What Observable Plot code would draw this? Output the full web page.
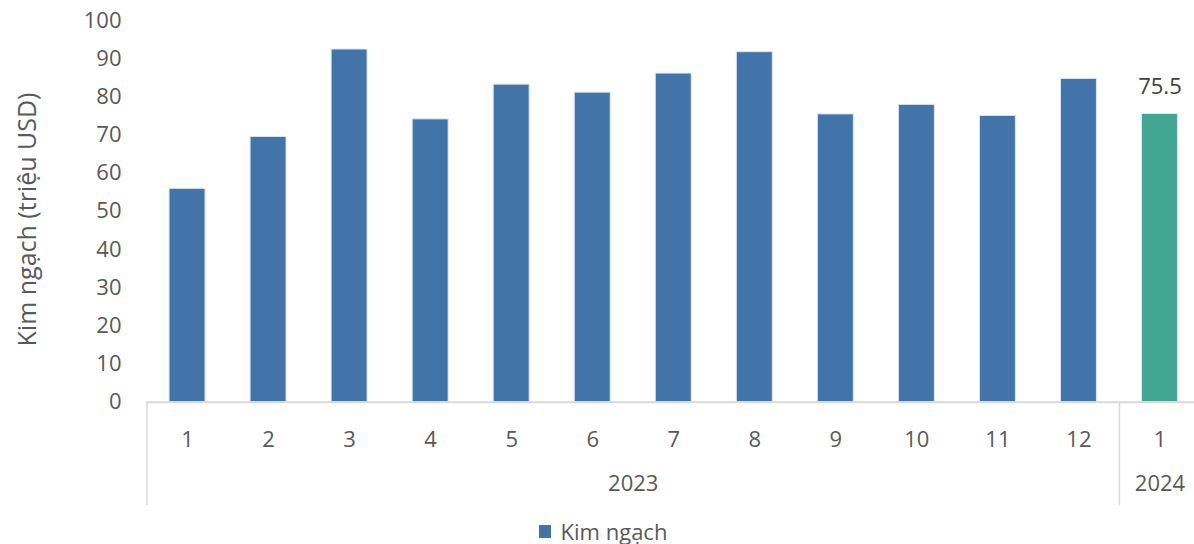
<!DOCTYPE html>
<html>
<head>
<meta charset="utf-8">
<script src="https://cdn.jsdelivr.net/npm/d3@7"></script>
<script src="https://cdn.jsdelivr.net/npm/@observablehq/plot@0.6"></script>
<style>
  body { margin: 0; background: #fff; font-family: "Open Sans", sans-serif; }
  #legend { height: 34px; padding-top: 4px; display: flex; align-items: center; justify-content: center; color: #595959; font-size: 22px; padding-left: 12px; }
  #legend .sw { width: 12px; height: 13px; background: #4374a9; margin-right: 10px; }
</style>
</head>
<body>
<div id="chart"></div>
<div id="legend"><span class="sw"></span><span>Kim ngạch</span></div>
<script>
const months = [1, 2, 3, 4, 5, 6, 7, 8, 9, 10, 11, 12, 1];
const years = [2023, 2023, 2023, 2023, 2023, 2023, 2023, 2023, 2023, 2023, 2023, 2023, 2024];
const values = [55.9, 69.5, 92.4, 74.1, 83.2, 81.1, 86.1, 91.7, 75.4, 77.9, 75.0, 84.7, 75.5];
const yTicks = [0, 10, 20, 30, 40, 50, 60, 70, 80, 90, 100];
const yLabel = "Kim ngạch (triệu USD)";
const labeled = [12]; // index of the bar carrying a data label

const data = months.map((m, i) => ({ i, month: m, year: years[i], value: values[i] }));
const groups = d3.groups(data, d => d.year).map(([year, rows]) => ({
  year,
  center: d3.mean(rows, r => r.i),
  start: d3.min(rows, r => r.i) - 0.5
}));

const blue = "#4374a9", green = "#42a692", textColor = "#595959", lineColor = "#d9d9d9";
const half = 0.222;

const chart = Plot.plot({
  width: 1194,
  height: 510,
  marginLeft: 146,
  marginRight: 0,
  marginTop: 20,
  marginBottom: 108,
  style: { fontFamily: "'Open Sans', sans-serif", fontSize: "22px", color: textColor, background: "white" },
  x: { type: "linear", domain: [-0.5, 12.5], range: [146.5, 1200] },
  y: { domain: [0, 100], range: [401.7, 20] },
  marks: [
    Plot.axisY({ ticks: yTicks, tickSize: 0, tickPadding: 25, fontSize: 22, label: null }),
    Plot.text([yLabel], { text: d => d, frameAnchor: "left", textAnchor: "middle", rotate: -90, dx: -119, dy: 8, fontSize: 25, fill: textColor }),
    Plot.axisX({ ticks: data.map(d => d.i), tickSize: 0, tickPadding: 29, fontSize: 22,
      tickFormat: i => String(months[i]), label: null }),
    Plot.axisX({ ticks: groups.map(g => g.start), tickSize: 103, stroke: lineColor, strokeWidth: 1.5,
      tickFormat: () => "", label: null }),
    Plot.rectY(data, {
      x1: d => d.i - half, x2: d => d.i + half, y: "value",
      fill: d => d.year === 2024 ? green : blue,
      stroke: "#dfe7f1", strokeWidth: 1
    }),
    Plot.ruleY([0], { stroke: lineColor, strokeWidth: 2 }),
    Plot.text(labeled.map(i => data[i]), {
      x: "i", y: "value", text: d => d.value.toFixed(1), dy: -27, fontSize: 22, fill: "#404040"
    }),
    Plot.text(groups, {
      x: "center", frameAnchor: "bottom", text: d => String(d.year), dy: 88, fontSize: 22, fill: textColor
    })
  ]
});
document.getElementById("chart").appendChild(chart);
</script>
</body>
</html>
